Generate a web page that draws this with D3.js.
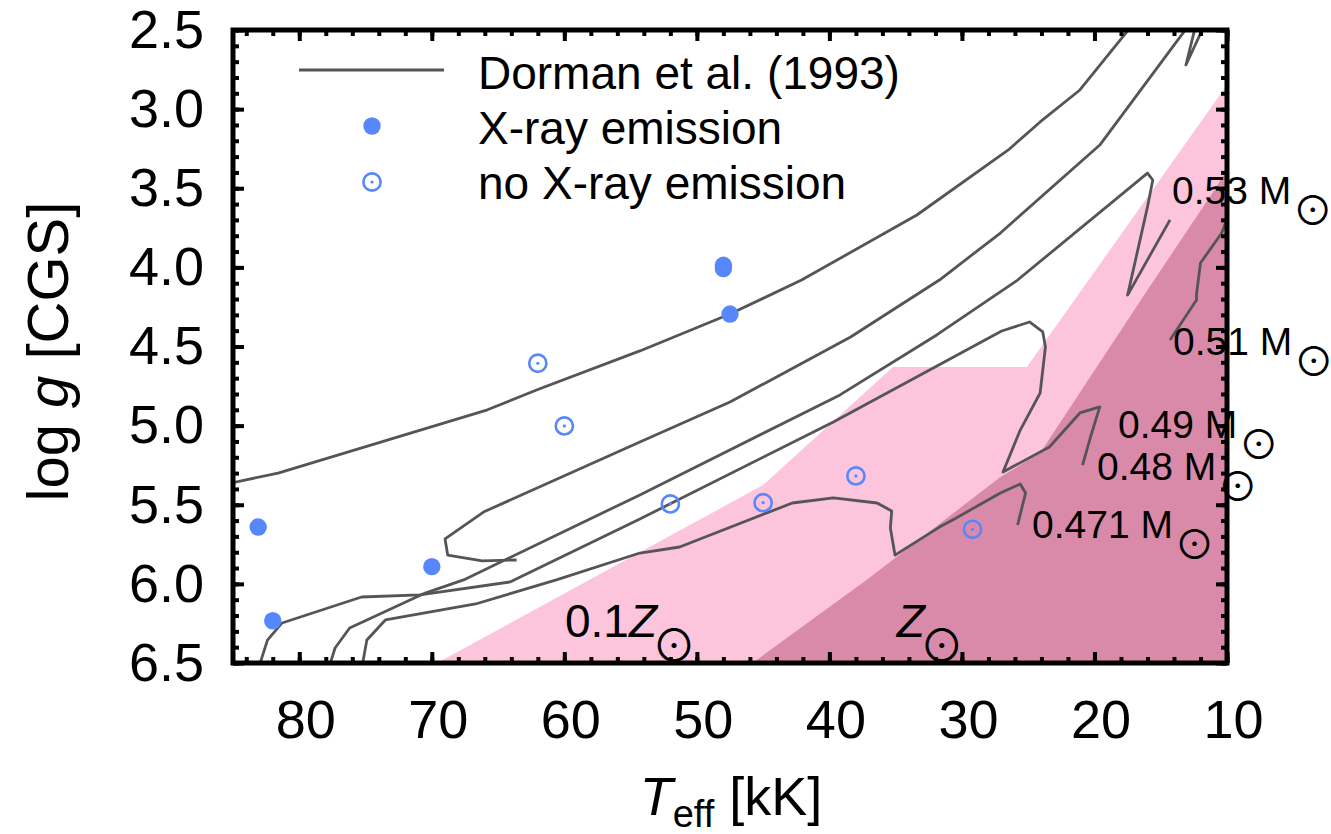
<!DOCTYPE html>
<html>
<head>
<meta charset="utf-8">
<script src="https://cdn.jsdelivr.net/npm/d3@7"></script>
<style>
  body { margin: 0; background: #fff; }
  text { font-family: "Liberation Sans", Arial, Helvetica, sans-serif; fill: #000; }
</style>
</head>
<body>
<div id="wrapper"></div>
<script>
// evolutionary tracks, Dorman et al. (1993): [Teff (kK), log g]
const track1 = [[85.6,5.38],[85.0,5.36],[81.6,5.30],[65.8,4.90],[62.1,4.775],[54.3,4.528],[47.5,4.295],[42.1,4.08],[33.4,3.669],[26.5,3.258],[24.1,3.081],[21.1,2.879],[17.5,2.506],[16.6,2.40]];
const track2 = [[63.6,5.849],[66.2,5.855],[68.8,5.818],[69.0,5.716],[66.1,5.546],[54.3,5.103],[47.5,4.851],[38.4,4.44],[31.7,4.08],[27.1,3.783],[19.6,3.227],[13.2,2.506],[12.5,2.42]];
const track3 = [[77.8,6.54],[77.3,6.405],[76.2,6.279],[70.5,6.058],[67.6,5.975],[54.3,5.438],[39.2,4.806],[31.9,4.427],[25.8,4.08],[16.0,3.404],[15.6,3.448],[16.0,3.618],[17.5,4.175],[14.3,3.70]];
const track4 = [[83.1,6.54],[82.4,6.355],[81.3,6.247],[75.3,6.083],[70.9,6.07],[64.1,5.988],[54.3,5.59],[39.7,4.977],[27.0,4.402],[24.9,4.345],[23.9,4.408],[23.7,4.503],[24.1,4.794],[25.6,5.028],[26.9,5.293],[23.4,5.135],[21.1,4.92],[19.6,4.882],[20.3,5.072],[20.9,5.249]];
const track5 = [[75.3,6.54],[74.9,6.355],[73.5,6.228],[66.7,6.127],[60.6,5.975],[54.3,5.805],[51.3,5.767],[42.8,5.489],[39.7,5.457],[36.4,5.489],[35.3,5.54],[35.4,5.647],[35.05,5.818],[31.7,5.641],[30.7,5.596],[27.1,5.426],[25.6,5.369],[25.2,5.426],[25.8,5.628]];
const track6 = [[9.6,3.606],[10.4,3.783],[12.0,3.972],[12.3,4.17],[12.3,4.206],[14.3,4.459]];
const track7 = [[12.3,2.45],[13.1,2.721],[11.6,2.45]];
const tracks = [track1, track2, track3, track4, track5, track6, track7];

// ZAHB regions
const zahbLowZ = [[69.6,6.5],[45.0,5.375],[35.2,4.63],[25.1,4.63],[10,2.848],[10,6.5]];
const zahbSolar = [[45.8,6.5],[37.2,5.975],[27.1,5.325],[24.1,5.173],[16.0,4.143],[11.1,3.53],[10,3.385],[10,6.5]];

// observed stars
const xrayT = [83.1, 82.0, 70.0, 48.0, 48.0, 47.5];
const xrayG = [5.641, 6.233, 5.891, 3.987, 4.008, 4.295];
const noXrayT = [62.0, 60.0, 52.0, 45.0, 38.0, 29.2];
const noXrayG = [4.606, 5.002, 5.495, 5.487, 5.318, 5.655];

// track mass labels: text, Teff, log g (text start, baseline)
const massText = ["0.53 M", "0.51 M", "0.49 M", "0.48 M", "0.471 M"];
const massT = [14.15, 14.07, 18.22, 19.81, 24.71];
const massG = [3.60, 4.554, 5.078, 5.344, 5.71];

const xMajor = [80, 70, 60, 50, 40, 30, 20, 10];
const xMinor = d3.range(84, 9, -2);
const yMajor = [2.5, 3.0, 3.5, 4.0, 4.5, 5.0, 5.5, 6.0, 6.5];
const yMinor = d3.range(25, 66, 1).map(d => d / 10);

const legendLabels = ["Dorman et al. (1993)", "X-ray emission", "no X-ray emission"];

const W = 1331, H = 834;
const blue = "#5787fc", trackColor = "#555555";
const svg = d3.select("#wrapper").append("svg").attr("width", W).attr("height", H);

const x = d3.scaleLinear().domain([85, 10]).range([233, 1227]);
const y = d3.scaleLinear().domain([2.5, 6.5]).range([30, 663]);

svg.append("clipPath").attr("id", "plotclip").append("rect")
  .attr("x", x(85)).attr("y", y(2.5)).attr("width", x(10) - x(85)).attr("height", y(6.5) - y(2.5));
const plot = svg.append("g").attr("clip-path", "url(#plotclip)");

const line = d3.line().x(d => x(d[0])).y(d => y(d[1]));

plot.append("path").datum(zahbLowZ).attr("d", d => line(d) + "Z").attr("fill", "#fcc5dc");
plot.append("path").datum(zahbSolar).attr("d", d => line(d) + "Z").attr("fill", "#da8aa9");

plot.selectAll(".track").data(tracks).enter().append("path")
  .attr("class", "track").attr("d", line)
  .attr("fill", "none").attr("stroke", trackColor).attr("stroke-width", 2.8).attr("stroke-linejoin", "round");

// stars
plot.selectAll(".xray").data(xrayT).enter().append("circle")
  .attr("class", "xray")
  .attr("cx", d => x(d)).attr("cy", (d, i) => y(xrayG[i])).attr("r", 8.7).attr("fill", blue);
const nx = plot.selectAll(".noxray").data(noXrayT).enter().append("g").attr("class", "noxray")
  .attr("transform", (d, i) => `translate(${x(d)},${y(noXrayG[i])})`);
nx.append("circle").attr("r", 8.6).attr("fill", "none").attr("stroke", blue).attr("stroke-width", 2.6);
nx.append("circle").attr("r", 1.6).attr("fill", blue);

// axes: inward ticks on all four sides
function styleAxis(g, fs) {
  g.select(".domain").remove();
  g.selectAll(".tick line").attr("stroke", "#000").attr("stroke-width", 4);
  g.selectAll("text").attr("font-size", fs).attr("font-family", "'Liberation Sans', Arial, sans-serif").attr("fill", "#000");
  return g;
}
const fmtY = d3.format(".1f");
styleAxis(svg.append("g").attr("transform", `translate(0,${y(6.5)})`)
  .call(d3.axisBottom(x).tickValues(xMinor).tickSize(-6).tickFormat("")), 0);
styleAxis(svg.append("g").attr("transform", `translate(0,${y(6.5)})`)
  .call(d3.axisBottom(x).tickValues(xMajor).tickSize(-11).tickPadding(37).tickFormat(d3.format("d"))), 54)
  .selectAll("text").attr("dx", 6);
styleAxis(svg.append("g").attr("transform", `translate(0,${y(2.5)})`)
  .call(d3.axisTop(x).tickValues(xMinor).tickSize(-6).tickFormat("")), 0);
styleAxis(svg.append("g").attr("transform", `translate(0,${y(2.5)})`)
  .call(d3.axisTop(x).tickValues(xMajor).tickSize(-11).tickFormat("")), 0);
styleAxis(svg.append("g").attr("transform", `translate(${x(85)},0)`)
  .call(d3.axisLeft(y).tickValues(yMinor).tickSize(-6).tickFormat("")), 0);
styleAxis(svg.append("g").attr("transform", `translate(${x(85)},0)`)
  .call(d3.axisLeft(y).tickValues(yMajor).tickSize(-11).tickPadding(29).tickFormat(fmtY)), 54);
styleAxis(svg.append("g").attr("transform", `translate(${x(10)},0)`)
  .call(d3.axisRight(y).tickValues(yMinor).tickSize(-6).tickFormat("")), 0);
styleAxis(svg.append("g").attr("transform", `translate(${x(10)},0)`)
  .call(d3.axisRight(y).tickValues(yMajor).tickSize(-11).tickFormat("")), 0);

svg.append("rect").attr("x", x(85)).attr("y", y(2.5))
  .attr("width", x(10) - x(85)).attr("height", y(6.5) - y(2.5))
  .attr("fill", "none").attr("stroke", "#000").attr("stroke-width", 5);

// axis titles
const xt = svg.append("text").attr("x", (x(85) + x(10)) / 2 + 1).attr("y", 815)
  .attr("text-anchor", "middle").attr("font-size", 54);
xt.append("tspan").attr("font-style", "italic").text("T");
xt.append("tspan").attr("font-size", 38).attr("dy", 12).text("eff");
xt.append("tspan").attr("dy", -12).text(" [kK]");

const yt = svg.append("text")
  .attr("transform", `translate(68,${(y(2.5) + y(6.5)) / 2 + 5}) rotate(-90)`)
  .attr("text-anchor", "middle").attr("font-size", 58);
yt.append("tspan").text("log ");
yt.append("tspan").attr("font-style", "italic").text("g");
yt.append("tspan").text(" [CGS]");

// sun symbol as subscript
function addSun(t, size, dx, dy) {
  t.append("tspan").attr("font-family", "'Noto Sans CJK SC', 'DejaVu Sans', sans-serif")
    .attr("font-size", size).attr("dx", dx).attr("dy", dy).text("\u2299");
}

const lz = svg.append("text").attr("x", x(59.95)).attr("y", y(6.336)).attr("font-size", 46);
lz.append("tspan").text("0.1");
lz.append("tspan").attr("font-style", "italic").text("Z");
addSun(lz, 44, -5, 24.5);

const sz = svg.append("text").attr("x", x(34.92)).attr("y", y(6.336)).attr("font-size", 46);
sz.append("tspan").attr("font-style", "italic").text("Z");
addSun(sz, 44, -5, 24.5);

massText.forEach((m, i) => {
  const t = svg.append("text").attr("x", x(massT[i])).attr("y", y(massG[i])).attr("font-size", 39);
  t.append("tspan").text(m);
  addSun(t, 40, 1.5, 21);
});

// legend
const leg = svg.append("g");
leg.append("line").attr("x1", 299).attr("x2", 444).attr("y1", 70).attr("y2", 70)
  .attr("stroke", trackColor).attr("stroke-width", 2.8);
leg.append("circle").attr("cx", 372).attr("cy", 126).attr("r", 8.7).attr("fill", blue);
leg.append("circle").attr("cx", 372).attr("cy", 182).attr("r", 8.6).attr("fill", "none")
  .attr("stroke", blue).attr("stroke-width", 2.6);
leg.append("circle").attr("cx", 372).attr("cy", 182).attr("r", 1.6).attr("fill", blue);
leg.selectAll(".lt").data(legendLabels).enter().append("text").attr("class", "lt")
  .attr("x", 478).attr("y", (d, i) => 89 + i * 55).attr("font-size", 46).text(d => d);
</script>
</body>
</html>
